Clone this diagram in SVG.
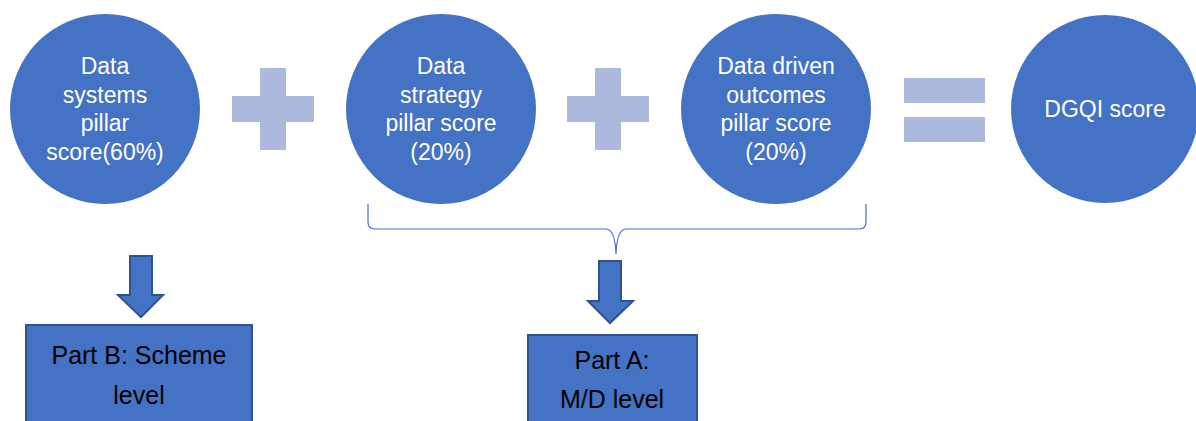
<svg xmlns="http://www.w3.org/2000/svg" width="1196" height="421" viewBox="0 0 1196 421">
<style>
.c{fill:#4472C4}
.op{fill:#AEBADD}
.ct{font-family:"Liberation Sans",Arial,sans-serif;font-size:23px;fill:#ffffff;text-anchor:middle}
.bx{fill:#4472C4;stroke:#2F528F;stroke-width:2}
.bt{font-family:"Liberation Sans",Arial,sans-serif;font-size:25px;fill:#000000;text-anchor:middle}
.ar{fill:#4472C4;stroke:#2F528F;stroke-width:2;stroke-linejoin:miter}
</style>
<rect width="1196" height="421" fill="#ffffff"/>
<g id="pillar-systems">
<circle class="c" cx="105" cy="109" r="95"/>
<text class="ct" x="105" y="74">Data</text>
<text class="ct" x="105" y="103">systems</text>
<text class="ct" x="105" y="131">pillar</text>
<text class="ct" x="105" y="160">score(60%)</text>
</g>
<g id="plus1">
<rect class="op" x="260" y="68" width="26" height="82"/>
<rect class="op" x="232" y="96" width="82" height="26"/>
</g>
<g id="pillar-strategy">
<circle class="c" cx="441" cy="109" r="95"/>
<text class="ct" x="441" y="74">Data</text>
<text class="ct" x="441" y="103">strategy</text>
<text class="ct" x="441" y="131">pillar score</text>
<text class="ct" x="441" y="160">(20%)</text>
</g>
<g id="plus2">
<rect class="op" x="595" y="68" width="26" height="82"/>
<rect class="op" x="567" y="96" width="82" height="26"/>
</g>
<g id="pillar-outcomes">
<circle class="c" cx="776" cy="109" r="95"/>
<text class="ct" x="776" y="74">Data driven</text>
<text class="ct" x="776" y="103">outcomes</text>
<text class="ct" x="776" y="131">pillar score</text>
<text class="ct" x="776" y="160">(20%)</text>
</g>
<g id="equals">
<rect class="op" x="904" y="78" width="81" height="25"/>
<rect class="op" x="904" y="117" width="81" height="25"/>
</g>
<g id="dgqi">
<circle class="c" cx="1105" cy="109" r="94"/>
<text class="ct" x="1105" y="117">DGQI score</text>
</g>
<g id="connectors">
<path d="M368,204 L368,222 Q368,229 375,229 L606,229 Q615,229 616,254 Q617,229 626,229 L859,229 Q866,229 866,222 L866,204" fill="none" stroke="#4472C4" stroke-width="1.2"/>
<path class="ar" d="M130,256 L152,256 L152,295 L163,295 L141,317 L118,295 L130,295 Z"/>
<path class="ar" d="M599,261 L621,261 L621,301 L633,301 L610,323 L588,301 L599,301 Z"/>
</g>
<g id="part-b">
<rect class="bx" x="26" y="325" width="226" height="110"/>
<text class="bt" x="139" y="364">Part B: Scheme</text>
<text class="bt" x="139" y="404">level</text>
</g>
<g id="part-a">
<rect class="bx" x="528" y="335" width="169" height="100"/>
<text class="bt" x="612" y="369">Part A:</text>
<text class="bt" x="612" y="408">M/D level</text>
</g>
</svg>
